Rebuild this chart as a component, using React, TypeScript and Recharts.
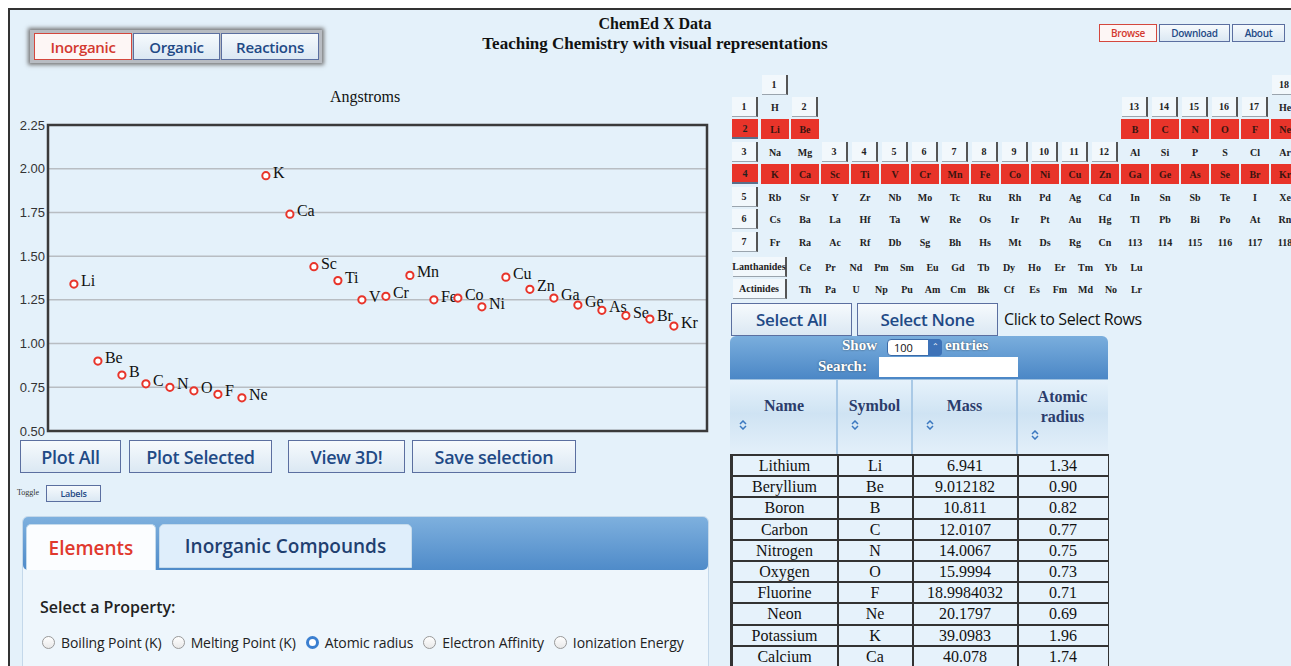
import React from 'react';
import { ScatterChart, Scatter, XAxis, YAxis, CartesianGrid, ReferenceArea } from 'recharts';

// element data plotted (period 2 + period 4)
const symbols = ['Li', 'Be', 'B', 'C', 'N', 'O', 'F', 'Ne', 'K', 'Ca', 'Sc', 'Ti', 'V', 'Cr', 'Mn', 'Fe', 'Co', 'Ni', 'Cu', 'Zn', 'Ga', 'Ge', 'As', 'Se', 'Br', 'Kr'];
const radii = [1.34, 0.9, 0.82, 0.77, 0.75, 0.73, 0.71, 0.69, 1.96, 1.74, 1.44, 1.36, 1.25, 1.27, 1.39, 1.25, 1.26, 1.21, 1.38, 1.31, 1.26, 1.22, 1.19, 1.16, 1.14, 1.1];
const yTicks = [0.5, 0.75, 1.0, 1.25, 1.5, 1.75, 2.0, 2.25];

// table rows
const names = ['Lithium', 'Beryllium', 'Boron', 'Carbon', 'Nitrogen', 'Oxygen', 'Fluorine', 'Neon', 'Potassium', 'Calcium'];
const masses = ['6.941', '9.012182', '10.811', '12.0107', '14.0067', '15.9994', '18.9984032', '20.1797', '39.0983', '40.078'];
const tableSymbols = ['Li', 'Be', 'B', 'C', 'N', 'O', 'F', 'Ne', 'K', 'Ca'];
const tableRadii = ['1.34', '0.90', '0.82', '0.77', '0.75', '0.73', '0.71', '0.69', '1.96', '1.74'];

// periodic table rows (18 columns, '' = empty)
const ptRows = [
  ['H', '', '', '', '', '', '', '', '', '', '', '', '', '', '', '', '', 'He'],
  ['Li', 'Be', '', '', '', '', '', '', '', '', '', '', 'B', 'C', 'N', 'O', 'F', 'Ne'],
  ['Na', 'Mg', '', '', '', '', '', '', '', '', '', '', 'Al', 'Si', 'P', 'S', 'Cl', 'Ar'],
  ['K', 'Ca', 'Sc', 'Ti', 'V', 'Cr', 'Mn', 'Fe', 'Co', 'Ni', 'Cu', 'Zn', 'Ga', 'Ge', 'As', 'Se', 'Br', 'Kr'],
  ['Rb', 'Sr', 'Y', 'Zr', 'Nb', 'Mo', 'Tc', 'Ru', 'Rh', 'Pd', 'Ag', 'Cd', 'In', 'Sn', 'Sb', 'Te', 'I', 'Xe'],
  ['Cs', 'Ba', 'La', 'Hf', 'Ta', 'W', 'Re', 'Os', 'Ir', 'Pt', 'Au', 'Hg', 'Tl', 'Pb', 'Bi', 'Po', 'At', 'Rn'],
  ['Fr', 'Ra', 'Ac', 'Rf', 'Db', 'Sg', 'Bh', 'Hs', 'Mt', 'Ds', 'Rg', 'Cn', '113', '114', '115', '116', '117', '118'],
];
const lanthanides = ['Ce', 'Pr', 'Nd', 'Pm', 'Sm', 'Eu', 'Gd', 'Tb', 'Dy', 'Ho', 'Er', 'Tm', 'Yb', 'Lu'];
const actinides = ['Th', 'Pa', 'U', 'Np', 'Pu', 'Am', 'Cm', 'Bk', 'Cf', 'Es', 'Fm', 'Md', 'No', 'Lr'];
const selectedPeriods = [2, 4];
const properties = ['Boiling Point (K)', 'Melting Point (K)', 'Atomic radius', 'Electron Affinity', 'Ionization Energy'];

const chartData = symbols.map((s, i) => ({ x: i, y: radii[i], sym: s }));

const BG = '#e4f1fa';
const RED = '#e8342a';
const SERIF = '"Liberation Serif", "Times New Roman", serif';
const SANS = '"Open Sans", "Liberation Sans", sans-serif';

const abs = (left: number, top: number, width?: number, height?: number): React.CSSProperties => ({
  position: 'absolute', left, top, width, height, boxSizing: 'border-box',
});

function Btn({ x, y, w, h, label, size = 17, red = false }: any) {
  return (
    <div style={{
      ...abs(x, y, w, h),
      border: `1px solid ${red ? '#d4473d' : '#5b6fa0'}`,
      background: red ? '#fdf6f5' : 'linear-gradient(#f6fafd, #dbe8f3)',
      color: red ? '#d3392f' : '#1f4a86',
      fontFamily: SANS, fontWeight: 600, fontSize: size,
      display: 'flex', alignItems: 'center', justifyContent: 'center',
      letterSpacing: -0.3, whiteSpace: 'nowrap',
    }}>{label}</div>
  );
}

const Marker = (props: any) => {
  const { cx, cy, payload } = props;
  return (
    <g>
      <circle cx={cx} cy={cy} r={3.6} fill="#fff" stroke={RED} strokeWidth={2} />
      <text x={cx + 7} y={cy + 2} fontFamily={SERIF} fontSize={16} fill="#111">{payload.sym}</text>
    </g>
  );
};

function SortIcon({ x, y }: { x: number; y: number }) {
  return (
    <svg style={{ position: 'absolute', left: x, top: y }} width={8} height={10}>
      <polyline points="1,4 4,1 7,4" fill="none" stroke="#3b78c0" strokeWidth={1.5} />
      <polyline points="1,6 4,9 7,6" fill="none" stroke="#3b78c0" strokeWidth={1.5} />
    </svg>
  );
}

function PeriodicTable() {
  const rowY = [107, 129, 152, 174, 197, 219, 242];
  const colX = (c: number) => 775 + c * 30;
  const cells: React.ReactNode[] = [];
  const labelBtn = (key: string, cx: number, cy: number, text: string, w = 26, red = false) => (
    <div key={key} style={{
      ...abs(cx - w / 2, cy - 10, w, 20),
      background: red ? RED : '#f2f8fc',
      borderRight: red ? 'none' : '2px solid #555',
      borderBottom: red ? '2px solid #5a6f8a' : '1.5px solid #9aa4ad',
      fontFamily: SERIF, fontWeight: 700, fontSize: 10, color: '#222',
      display: 'flex', alignItems: 'center', justifyContent: 'center',
    }}>{text}</div>
  );
  ptRows.forEach((row, r) => {
    const period = r + 1;
    const red = selectedPeriods.includes(period);
    cells.push(labelBtn(`p${r}`, 745, rowY[r], String(period), 26, red));
    row.forEach((el, c) => {
      if (!el) return;
      cells.push(
        <div key={`e${r}-${c}`} style={{
          ...abs(colX(c) - 14, rowY[r] - 10, 28, 20),
          background: red ? RED : 'transparent',
          fontFamily: SERIF, fontWeight: 700, fontSize: 10, color: red ? '#3a1410' : '#222',
          display: 'flex', alignItems: 'center', justifyContent: 'center',
        }}>{el}</div>
      );
    });
  });
  // group labels
  cells.push(labelBtn('g1', colX(0), 85, '1'));
  cells.push(labelBtn('g2', colX(1), 107, '2'));
  for (let g = 3; g <= 12; g++) cells.push(labelBtn(`g${g}`, colX(g - 1), 152, String(g)));
  for (let g = 13; g <= 17; g++) cells.push(labelBtn(`g${g}`, colX(g - 1), 107, String(g)));
  cells.push(labelBtn('g18', colX(17), 85, '18'));
  // f-block
  cells.push(labelBtn('lan', 760, 267, 'Lanthanides', 54));
  cells.push(labelBtn('act', 760, 289, 'Actinides', 54));
  [lanthanides, actinides].forEach((list, r) => {
    list.forEach((el, i) => {
      cells.push(
        <div key={`f${r}-${i}`} style={{
          ...abs(805 + i * 25.5 - 12, (r ? 289 : 267) - 10, 24, 20),
          fontFamily: SERIF, fontWeight: 700, fontSize: 10, color: '#222',
          display: 'flex', alignItems: 'center', justifyContent: 'center',
        }}>{el}</div>
      );
    });
  });
  return <>{cells}</>;
}

function DataTable() {
  const edges = [731, 837, 912, 1017, 1108];
  const top = 454;
  const rh = 21.2;
  return (
    <>
      {/* show / search bar */}
      <div style={{ ...abs(730, 336, 378, 43), background: 'linear-gradient(#7aaedd, #4b87c6)', borderRadius: '6px 6px 0 0' }} />
      <div style={{ ...abs(842, 337, 50, 20), fontFamily: SERIF, fontWeight: 700, fontSize: 15, color: '#fff', textShadow: '0 0 2px #345' }}>Show</div>
      <div style={{ ...abs(887, 339, 55, 17), background: '#fff', borderRadius: 4, border: '1px solid #3a6aa8', fontFamily: SANS, fontSize: 11, paddingLeft: 6, lineHeight: '15px', color: '#111' }}>100</div>
      <div style={{ ...abs(928, 339, 14, 17), background: '#3d72b8', borderRadius: '0 4px 4px 0', color: '#fff', fontSize: 8, textAlign: 'center', lineHeight: '16px' }}>⌃</div>
      <div style={{ ...abs(945, 337, 60, 20), fontFamily: SERIF, fontWeight: 700, fontSize: 15, color: '#fff', textShadow: '0 0 2px #345' }}>entries</div>
      <div style={{ ...abs(818, 358, 62, 20), fontFamily: SERIF, fontWeight: 700, fontSize: 15, color: '#fff', textShadow: '0 0 2px #345' }}>Search:</div>
      <div style={{ ...abs(879, 357, 139, 20), background: '#fff' }} />
      {/* header row */}
      <div style={{ ...abs(730, 379, 378, 76), background: 'linear-gradient(#e6f2fb, #cfe3f3 45%, #e4f0fa)', borderTop: '1px solid #9fc1df' }} />
      {edges.slice(1, 4).map((x, i) => (
        <div key={`sep${i}`} style={{ ...abs(x - 1, 380, 2, 75), background: '#a9c9e6' }} />
      ))}
      {['Name', 'Symbol', 'Mass'].map((t, i) => (
        <div key={t} style={{ ...abs(edges[i], 397, edges[i + 1] - edges[i], 22), textAlign: 'center', fontFamily: SERIF, fontWeight: 700, fontSize: 16, color: '#2b3c6b' }}>{t}</div>
      ))}
      <div style={{ ...abs(edges[3], 387, edges[4] - edges[3], 44), textAlign: 'center', fontFamily: SERIF, fontWeight: 700, fontSize: 16, lineHeight: '20px', color: '#2b3c6b' }}>Atomic<br />radius</div>
      <SortIcon x={739} y={420} />
      <SortIcon x={851} y={420} />
      <SortIcon x={926} y={420} />
      <SortIcon x={1031} y={430} />
      {/* body */}
      <div style={{ ...abs(730, top, 379, 666 - top), background: '#333' }} />
      {names.map((n, r) => {
        const vals = [n, tableSymbols[r], masses[r], tableRadii[r]];
        return vals.map((v, c) => (
          <div key={`c${r}-${c}`} style={{
            ...abs(edges[c] + 1.5, top + r * rh + 2, edges[c + 1] - edges[c] - 2, rh - 2),
            background: '#e6f2fb', fontFamily: SERIF, fontSize: 16, lineHeight: '17px', color: '#111',
            display: 'flex', alignItems: 'center', justifyContent: 'center', whiteSpace: 'nowrap',
          }}>{v}</div>
        ));
      })}
    </>
  );
}

export default function App() {
  return (
    <div style={{ position: 'absolute', left: 0, top: 0, width: 1291, height: 666, overflow: 'hidden', background: '#fff' }}>
      <div style={{ ...abs(8, 8, 1283, 658), background: BG, borderTop: '2px solid #333', borderLeft: '2px solid #333' }} />

      {/* top nav */}
      <div style={{ ...abs(30, 30, 292, 33), background: '#b8bcc2', boxShadow: '0 0 4px 2px #777' }} />
      <Btn x={34} y={33} w={98} h={27} label="Inorganic" size={15} red />
      <Btn x={133} y={33} w={87} h={27} label="Organic" size={15} />
      <Btn x={221} y={33} w={98} h={27} label="Reactions" size={15} />

      <div style={{ ...abs(405, 15, 500, 20), textAlign: 'center', fontFamily: SERIF, fontWeight: 700, fontSize: 16, color: '#111', whiteSpace: 'nowrap' }}>
        ChemEd X Data
      </div>
      <div style={{ ...abs(405, 34, 500, 20), textAlign: 'center', fontFamily: SERIF, fontWeight: 700, fontSize: 17, color: '#111', whiteSpace: 'nowrap' }}>
        Teaching Chemistry with visual representations
      </div>

      <Btn x={1099} y={24} w={58} h={18} label="Browse" size={10} red />
      <Btn x={1159} y={24} w={71} h={18} label="Download" size={10} />
      <Btn x={1232} y={24} w={53} h={18} label="About" size={10} />

      {/* chart */}
      <div style={{ ...abs(300, 88, 130, 22), textAlign: 'center', fontFamily: SERIF, fontSize: 16, color: '#111' }}>Angstroms</div>
      <div style={{ ...abs(0, 80, 720, 370) }}>
        <ScatterChart width={720} height={370} margin={{ top: 45, right: 13, bottom: 19, left: 0 }}>
          <CartesianGrid vertical={false} stroke="#b8bdc2" strokeWidth={1.5} />
          <XAxis type="number" dataKey="x" domain={[-1.08, 26.38]} hide />
          <YAxis
            type="number"
            dataKey="y"
            domain={[0.5, 2.25]}
            ticks={yTicks}
            width={48}
            axisLine={false}
            tickLine={false}
            tickSize={0}
            tickMargin={3}
            tickFormatter={(v: number) => v.toFixed(2)}
            tick={{ fill: '#333', fontSize: 13, fontFamily: '"Liberation Sans", Arial, sans-serif' }}
          />
          <ReferenceArea x1={-1.08} x2={26.38} y1={0.5} y2={2.25} fill="none" stroke="#3a3a3a" strokeWidth={2.5} ifOverflow="visible" />
          <Scatter data={chartData} shape={Marker} isAnimationActive={false} />
        </ScatterChart>
      </div>

      {/* buttons under chart */}
      <Btn x={20} y={440} w={101} h={33} label="Plot All" size={18} />
      <Btn x={129} y={440} w={143} h={33} label="Plot Selected" size={18} />
      <Btn x={288} y={440} w={117} h={33} label="View 3D!" size={18} />
      <Btn x={412} y={440} w={164} h={33} label="Save selection" size={18} />
      <div style={{ ...abs(17, 488, 32, 12), fontFamily: SERIF, fontSize: 8, color: '#333' }}>Toggle</div>
      <Btn x={46} y={485} w={55} h={17} label="Labels" size={9} />

      {/* property panel */}
      <div style={{ ...abs(22, 516, 687, 160), background: '#eef6fc', border: '1px solid #c4d8ea', borderRadius: 6 }} />
      <div style={{ ...abs(23, 517, 685, 53), background: 'linear-gradient(#7eb0de, #4f8bc9)', borderRadius: 5 }} />
      <div style={{ ...abs(26, 524, 130, 46), background: '#fbfdff', border: '1px solid #c5dbec', borderBottom: 'none', borderRadius: '5px 5px 0 0', fontFamily: SANS, fontWeight: 600, fontSize: 19, color: '#e0392e', display: 'flex', alignItems: 'center', justifyContent: 'center' }}>Elements</div>
      <div style={{ ...abs(159, 524, 253, 44), background: '#dfeefb', border: '1px solid #c5dbec', borderRadius: '5px 5px 0 0', fontFamily: SANS, fontWeight: 600, fontSize: 19, color: '#1f3f70', display: 'flex', alignItems: 'center', justifyContent: 'center' }}>Inorganic Compounds</div>
      <div style={{ ...abs(40, 596, 300, 24), fontFamily: SANS, fontWeight: 600, fontSize: 16, color: '#222' }}>Select a Property:</div>
      <div style={{ ...abs(40, 632, 670, 20), display: 'flex', alignItems: 'center', fontFamily: SANS, fontSize: 14, color: '#222', whiteSpace: 'nowrap', letterSpacing: -0.1 }}>
        {properties.map((p, i) => (
          <span key={p} style={{ display: 'flex', alignItems: 'center', marginRight: 8 }}>
            <span style={{
              width: 13, height: 13, borderRadius: 7, boxSizing: 'border-box', marginRight: 6, marginLeft: 2,
              border: i === 2 ? '3.5px solid #3b7fd0' : '1px solid #999',
              background: i === 2 ? '#fff' : 'linear-gradient(#fff, #e9e9e9)',
            }} />
            {p}
          </span>
        ))}
      </div>

      {/* right side */}
      <PeriodicTable />
      <Btn x={731} y={303} w={121} h={33} label="Select All" size={17} />
      <Btn x={857} y={303} w={141} h={33} label="Select None" size={17} />
      <div style={{ ...abs(1004, 308, 200, 22), fontFamily: SANS, fontSize: 16, color: '#111', letterSpacing: -0.4 }}>Click to Select Rows</div>
      <DataTable />
    </div>
  );
}
